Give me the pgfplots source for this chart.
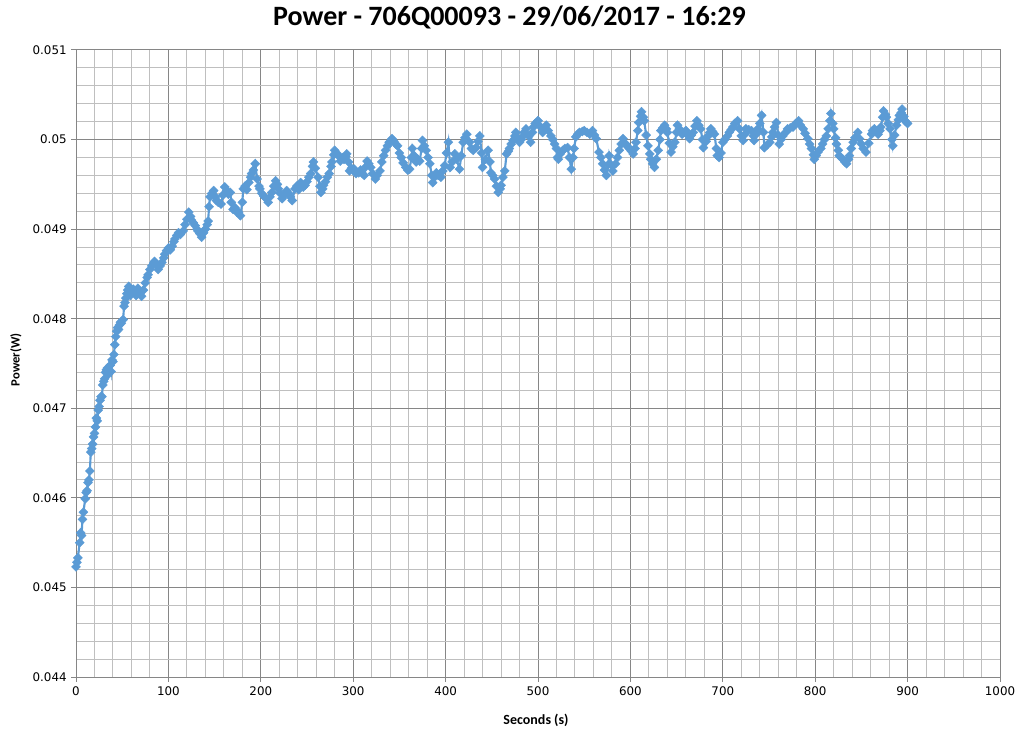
\documentclass[border=0pt]{standalone}
\usepackage{pgfplots}
\pgfplotsset{compat=1.18}
\usepackage{fontspec}
\setmainfont{DejaVu Sans}
\newfontfamily\carlito{Carlito}
\definecolor{ser}{HTML}{5B9BD5}
\definecolor{majg}{HTML}{868686}
\definecolor{ming}{HTML}{BFBFBF}
\pgfplotstableread{
x y
0 0.04523
1 0.04528
2 0.04533
4 0.04550
5 0.04561
6 0.04558
7 0.04576
8 0.04584
10 0.04599
11 0.04606
12 0.04608
13 0.04617
14 0.04620
15 0.04630
16 0.04651
17 0.04655
18 0.04660
19 0.04668
20 0.04672
21 0.04679
22 0.04689
23 0.04686
24 0.04698
25 0.04702
26 0.04709
27 0.04713
28 0.04713
29 0.04726
30 0.04730
31 0.04733
32 0.04740
33 0.04743
34 0.04745
35 0.04738
36 0.04741
37 0.04748
38 0.04741
39 0.04754
40 0.04752
41 0.04760
42 0.04771
43 0.04780
44 0.04786
45 0.04790
46 0.04788
47 0.04793
48 0.04796
49 0.04795
51 0.04799
52 0.04814
53 0.04818
54 0.04823
55 0.04828
56 0.04832
57 0.04836
58 0.04830
59 0.04826
60 0.04829
62 0.04833
64 0.04830
65 0.04826
67 0.04834
69 0.04830
71 0.04825
73 0.04832
75 0.04840
77 0.04846
78 0.04849
80 0.04855
82 0.04859
84 0.04862
85 0.04864
87 0.04860
89 0.04855
91 0.04859
93 0.04863
95 0.04868
96 0.04872
98 0.04876
100 0.04879
102 0.04877
104 0.04881
106 0.04886
107 0.04889
109 0.04893
111 0.04896
113 0.04894
116 0.04898
118 0.04905
120 0.04911
122 0.04919
124 0.04914
125 0.04910
127 0.04907
129 0.04904
131 0.04900
132 0.04898
134 0.04895
136 0.04891
138 0.04896
140 0.04900
142 0.04905
143 0.04909
144 0.04925
145 0.04936
147 0.04940
149 0.04943
151 0.04936
152 0.04932
154 0.04930
157 0.04928
159 0.04938
161 0.04947
163 0.04943
165 0.04939
167 0.04941
168 0.04930
170 0.04922
172 0.04924
174 0.04919
176 0.04919
178 0.04915
180 0.04930
181 0.04945
183 0.04948
185 0.04944
187 0.04952
189 0.04958
190 0.04962
192 0.04966
194 0.04973
196 0.04956
198 0.04948
199 0.04945
201 0.04940
203 0.04937
205 0.04935
208 0.04930
210 0.04936
212 0.04941
214 0.04948
216 0.04954
218 0.04950
219 0.04945
221 0.04940
223 0.04934
225 0.04938
228 0.04943
230 0.04940
232 0.04936
234 0.04932
237 0.04945
239 0.04948
241 0.04944
243 0.04952
246 0.04947
248 0.04949
250 0.04953
252 0.04958
254 0.04962
256 0.04970
257 0.04975
259 0.04968
262 0.04958
264 0.04948
265 0.04941
267 0.04945
268 0.04949
270 0.04953
272 0.04958
274 0.04962
276 0.04970
277 0.04975
279 0.04983
280 0.04988
282 0.04985
284 0.04982
286 0.04976
288 0.04980
290 0.04978
292 0.04981
293 0.04984
295 0.04975
296 0.04965
298 0.04968
301 0.04967
303 0.04962
306 0.04963
308 0.04966
310 0.04962
312 0.04960
314 0.04970
315 0.04976
317 0.04973
319 0.04969
321 0.04962
324 0.04956
326 0.04960
329 0.04965
331 0.04975
333 0.04982
335 0.04988
337 0.04993
339 0.04997
342 0.05001
344 0.04998
346 0.04995
348 0.04993
350 0.04985
352 0.04980
354 0.04974
357 0.04969
359 0.04966
361 0.04967
363 0.04980
364 0.04990
366 0.04982
368 0.04975
370 0.04978
372 0.04976
374 0.04990
375 0.04999
377 0.04993
379 0.04988
381 0.04980
383 0.04973
385 0.04960
386 0.04952
388 0.04958
390 0.04963
392 0.04960
395 0.04958
397 0.04965
399 0.04971
401 0.04985
403 0.04997
405 0.04969
407 0.04975
410 0.04984
412 0.04978
415 0.04967
417 0.04982
419 0.04997
421 0.05002
423 0.05006
426 0.04997
428 0.04990
430 0.04988
433 0.04991
435 0.04998
437 0.05004
439 0.04985
440 0.04969
443 0.04978
446 0.04988
448 0.04975
449 0.04963
451 0.04960
453 0.04956
455 0.04948
457 0.04941
459 0.04945
460 0.04949
462 0.04958
464 0.04965
466 0.04984
468 0.04987
469 0.04990
471 0.04995
473 0.04999
475 0.05004
476 0.05008
478 0.05002
480 0.04997
482 0.05000
483 0.05003
485 0.05008
487 0.05012
490 0.05004
492 0.04997
494 0.05008
495 0.05014
497 0.05018
500 0.05021
502 0.05015
505 0.05008
507 0.05012
509 0.05016
511 0.05010
514 0.05004
516 0.05000
518 0.04995
520 0.04990
521 0.04980
522 0.04978
524 0.04984
527 0.04988
529 0.04990
532 0.04991
534 0.04980
536 0.04967
538 0.04980
539 0.04990
541 0.05003
543 0.05006
545 0.05008
548 0.05009
550 0.05010
553 0.05008
556 0.05006
559 0.05010
561 0.05005
563 0.05001
566 0.04986
568 0.04980
570 0.04973
572 0.04966
574 0.04960
576 0.04972
577 0.04982
579 0.04972
581 0.04965
584 0.04973
586 0.04980
588 0.04988
590 0.04995
592 0.05001
595 0.04995
597 0.04992
599 0.04990
601 0.04987
603 0.04984
605 0.04990
606 0.04997
608 0.05010
609 0.05019
611 0.05026
612 0.05031
614 0.05025
615 0.05021
617 0.05005
619 0.04993
621 0.04984
622 0.04978
624 0.04973
626 0.04969
628 0.04978
630 0.04988
632 0.05000
633 0.05010
635 0.05013
637 0.05016
639 0.05012
640 0.05008
642 0.04996
644 0.04986
646 0.04992
648 0.04997
650 0.05008
651 0.05016
653 0.05012
656 0.05006
658 0.05008
660 0.05010
662 0.05005
664 0.05001
666 0.05005
668 0.05008
670 0.05015
672 0.05021
674 0.05016
676 0.05012
678 0.05000
679 0.04991
682 0.04998
684 0.05004
686 0.05008
687 0.05012
689 0.05009
691 0.05006
693 0.04990
694 0.04982
696 0.04980
698 0.04985
700 0.04997
702 0.05000
705 0.05004
707 0.05008
709 0.05011
711 0.05014
713 0.05018
716 0.05021
718 0.05012
720 0.05004
722 0.04999
724 0.05006
725 0.05012
728 0.05011
731 0.05010
733 0.05004
734 0.04999
736 0.05006
738 0.05012
740 0.05018
742 0.05027
744 0.05008
745 0.04991
748 0.04994
751 0.04997
753 0.05003
754 0.05008
756 0.05014
758 0.05019
760 0.05005
761 0.04995
763 0.05000
765 0.05004
768 0.05008
770 0.05012
773 0.05013
776 0.05014
779 0.05018
782 0.05021
784 0.05016
787 0.05012
789 0.05007
792 0.05001
794 0.04995
796 0.04990
798 0.04983
799 0.04978
801 0.04982
803 0.04986
806 0.04990
808 0.04995
810 0.05000
812 0.05004
814 0.05012
816 0.05021
817 0.05029
819 0.05018
820 0.05012
822 0.05002
823 0.04995
825 0.04988
826 0.04982
828 0.04980
830 0.04978
832 0.04975
834 0.04973
836 0.04978
837 0.04982
839 0.04990
841 0.04997
843 0.05002
846 0.05008
848 0.05001
850 0.04995
852 0.04990
855 0.04986
858 0.04996
861 0.05006
862 0.05010
864 0.05012
866 0.05009
868 0.05006
870 0.05010
871 0.05014
873 0.05025
874 0.05032
876 0.05028
877 0.05025
879 0.05018
881 0.05012
883 0.05000
884 0.04993
886 0.05005
888 0.05016
890 0.05022
891 0.05027
893 0.05030
894 0.05034
896 0.05026
897 0.05021
899 0.05019
900 0.05018
}\powerdata
\begin{document}
\begin{tikzpicture}[x=1pt,y=1pt]
\useasboundingbox (-57,-40.5) rectangle (707.25,507.75);
\begin{axis}[
  at={(0,0)}, anchor=south west,
  scale only axis, width=693pt, height=470.25pt,
  xmin=0, xmax=1000, ymin=0.044, ymax=0.051,
  xtick={0,100,200,300,400,500,600,700,800,900,1000},
  ytick={0.044,0.045,0.046,0.047,0.048,0.049,0.05,0.051},
  minor x tick num=4, minor y tick num=4,
  grid=both,
  major grid style={draw=majg, line width=0.75pt},
  minor grid style={draw=ming, line width=0.75pt},
  axis line style={draw=majg, line width=0.75pt},
  tick pos=left, tick align=outside,
  major tick length=3.5pt, minor tick length=0pt,
  every tick/.style={draw=majg, line width=0.75pt},
  scaled y ticks=false, scaled x ticks=false,
  /pgf/number format/assume math mode=true,
  /pgf/number format/set thousands separator={},
  yticklabel style={/pgf/number format/fixed, /pgf/number format/precision=3},
  ticklabel style={font=\fontsize{8.9}{10}\selectfont, text=black},
]
\addplot[draw=ser, line width=1.6pt, mark=square*, mark size=2.4pt,
  mark options={rotate=45, solid, fill=ser, draw=ser, line width=0.3pt}]
  table[x=x, y=y] {\powerdata};
\end{axis}
\node[anchor=base, font=\carlito\bfseries\fontsize{21}{25}\selectfont] at (325.1,488.25) {Power - 706Q00093 - 29/06/2017 - 16:29};
\node[anchor=base, font=\carlito\bfseries\fontsize{10.5}{12}\selectfont] at (345,-35.5) {Seconds (s)};
\node[rotate=90, anchor=center, font=\carlito\bfseries\fontsize{9.5}{11}\selectfont] at (-45,238) {Power(W)};
\end{tikzpicture}
\end{document}
